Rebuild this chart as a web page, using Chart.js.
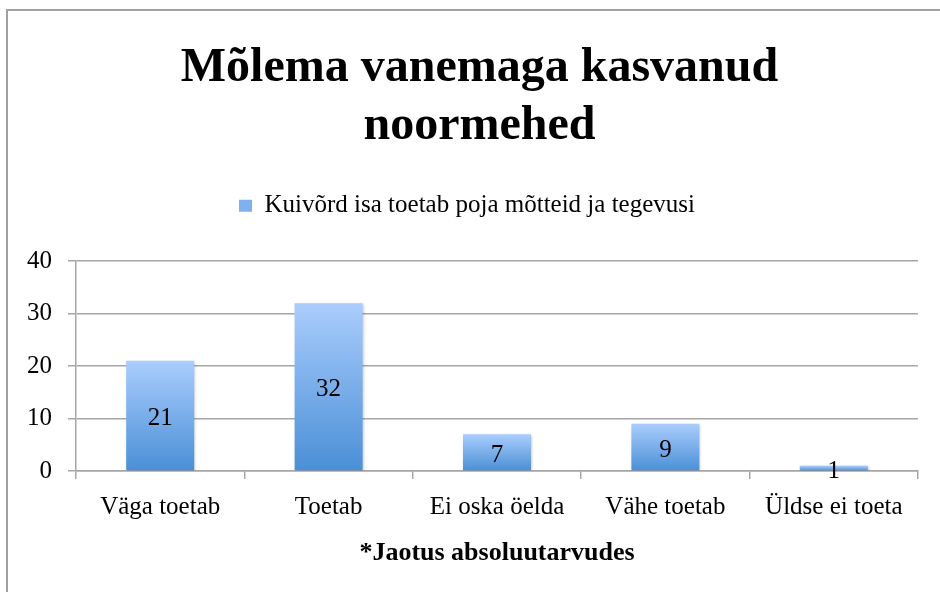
<html>
    <head>
        <script src="https://cdn.jsdelivr.net/npm/chart.js@4.4.0/dist/chart.umd.min.js"></script>
        <style type="text/css">
            body {
                margin: 0;
                padding: 0;
                background: #ffffff;
                overflow: hidden;
            }
            #wrap {
                position: relative;
                width: 940px;
                height: 592px;
                overflow: hidden;
            }
            #frame {
                position: absolute;
                left: 6px;
                top: 9px;
                width: 1000px;
                height: 700px;
                border: 2px solid #a0a0a0;
            }
            #myChart {
                position: absolute;
                left: 0;
                top: 0;
            }
        </style>
    </head>
    <body>
        <div id="wrap">
            <div id="frame"></div>
            <canvas id="myChart" width="940" height="592"></canvas>
        </div>

        <script>
        const categories = ['Väga toetab', 'Toetab', 'Ei oska öelda', 'Vähe toetab', 'Üldse ei toeta'];
        const values = [21, 32, 7, 9, 1];
        const yMin = 0;
        const yMax = 40;
        const yStep = 10;
        const seriesName = 'Kuivõrd isa toetab poja mõtteid ja tegevusi';
        const titleLines = ['Mõlema vanemaga kasvanud', 'noormehed'];
        const xAxisTitle = '*Jaotus absoluutarvudes';

        const serif = '"Liberation Serif", "Times New Roman", serif';
        const gridColor = '#a6a6a6';

        function barGradient(context) {
            const chart = context.chart;
            if (!chart.chartArea || !chart.scales.y) {
                return '#7aaee9';
            }
            const y = chart.scales.y;
            const top = y.getPixelForValue(context.raw);
            const bottom = y.getPixelForValue(0);
            if (!isFinite(top) || bottom - top < 1) {
                return '#8cbbf2';
            }
            const g = chart.ctx.createLinearGradient(0, top, 0, bottom);
            g.addColorStop(0, '#aacdfd');
            g.addColorStop(1, '#4a8fd6');
            return g;
        }

        // values written in the middle of each bar
        const barLabels = {
            id: 'barLabels',
            afterDatasetsDraw(chart) {
                const ctx = chart.ctx;
                const meta = chart.getDatasetMeta(0);
                ctx.save();
                ctx.font = '25px ' + serif;
                ctx.fillStyle = '#000000';
                ctx.textAlign = 'center';
                ctx.textBaseline = 'middle';
                meta.data.forEach((bar, i) => {
                    const mid = (bar.y + bar.base) / 2 + 3;
                    ctx.fillText(String(values[i]), bar.x, mid);
                });
                ctx.restore();
            }
        };

        // soft shadow under the bars
        const barShadow = {
            id: 'barShadow',
            beforeDatasetsDraw(chart) {
                const ctx = chart.ctx;
                ctx.save();
                ctx.shadowColor = 'rgba(0,0,0,0.25)';
                ctx.shadowBlur = 3;
                ctx.shadowOffsetX = 1;
                ctx.shadowOffsetY = 1;
            },
            afterDatasetsDraw(chart) {
                chart.ctx.restore();
            }
        };

        // title and legend sit a bit right of the canvas centre in the original
        const nudgeBlocks = {
            id: 'nudgeBlocks',
            afterLayout(chart) {
                if (chart.titleBlock) chart.titleBlock.left += 41;
                if (chart.legend) chart.legend.left += 16;
            }
        };

        const ctx = document.getElementById('myChart').getContext('2d');
        const myChart = new Chart(ctx, {
            type: 'bar',
            data: {
                labels: categories,
                datasets: [{
                    label: seriesName,
                    data: values,
                    xAxisID: 'x',
                    yAxisID: 'y',
                    backgroundColor: barGradient,
                    borderWidth: 0,
                    categoryPercentage: 1,
                    barPercentage: 0.404
                }]
            },
            plugins: [nudgeBlocks, barShadow, barLabels],
            options: {
                responsive: false,
                animation: false,
                devicePixelRatio: 1,
                layout: {
                    padding: { left: 0, right: 22, top: 0, bottom: 0 }
                },
                plugins: {
                    title: {
                        display: true,
                        text: titleLines,
                        color: '#000000',
                        font: { family: serif, size: 48, weight: 'bold', lineHeight: 1.2 },
                        padding: { top: 40, bottom: 28 }
                    },
                    legend: {
                        display: true,
                        labels: {
                            color: '#000000',
                            font: { family: serif, size: 25 },
                            boxWidth: 13,
                            boxHeight: 12,
                            padding: 10,
                            generateLabels() {
                                return [{
                                    text: seriesName,
                                    fillStyle: '#7eb1ee',
                                    strokeStyle: '#7eb1ee',
                                    lineWidth: 0,
                                    datasetIndex: 0
                                }];
                            }
                        }
                    },
                    tooltip: { enabled: false }
                },
                scales: {
                    x: {
                        grid: {
                            display: true,
                            drawOnChartArea: false,
                            drawTicks: true,
                            tickLength: 8,
                            color: gridColor,
                            lineWidth: 1.5
                        },
                        border: { display: true, color: gridColor, width: 1.5 },
                        ticks: {
                            color: '#000000',
                            font: { family: serif, size: 25 },
                            padding: 13,
                            maxRotation: 0,
                            autoSkip: false
                        },
                        title: {
                            display: true,
                            text: xAxisTitle,
                            color: '#000000',
                            font: { family: serif, size: 26, weight: 'bold' },
                            padding: { top: 0, bottom: 23 }
                        },
                        afterFit(scale) { scale.height = 121; }
                    },
                    y: {
                        min: yMin,
                        max: yMax,
                        grid: {
                            color: gridColor,
                            lineWidth: 1.5,
                            tickLength: 8
                        },
                        border: { display: true, color: gridColor, width: 1.5 },
                        ticks: {
                            stepSize: yStep,
                            color: '#000000',
                            font: { family: serif, size: 25 },
                            padding: 16
                        },
                        afterFit(scale) { scale.width = 76; }
                    },
                    // empty band between the legend and the plot
                    spacer: {
                        type: 'linear',
                        position: 'top',
                        display: true,
                        grid: { display: false },
                        border: { display: false },
                        ticks: { display: false },
                        afterFit(scale) { scale.height = 33; }
                    }
                }
            }
        });
        </script>
    </body>
</html>
